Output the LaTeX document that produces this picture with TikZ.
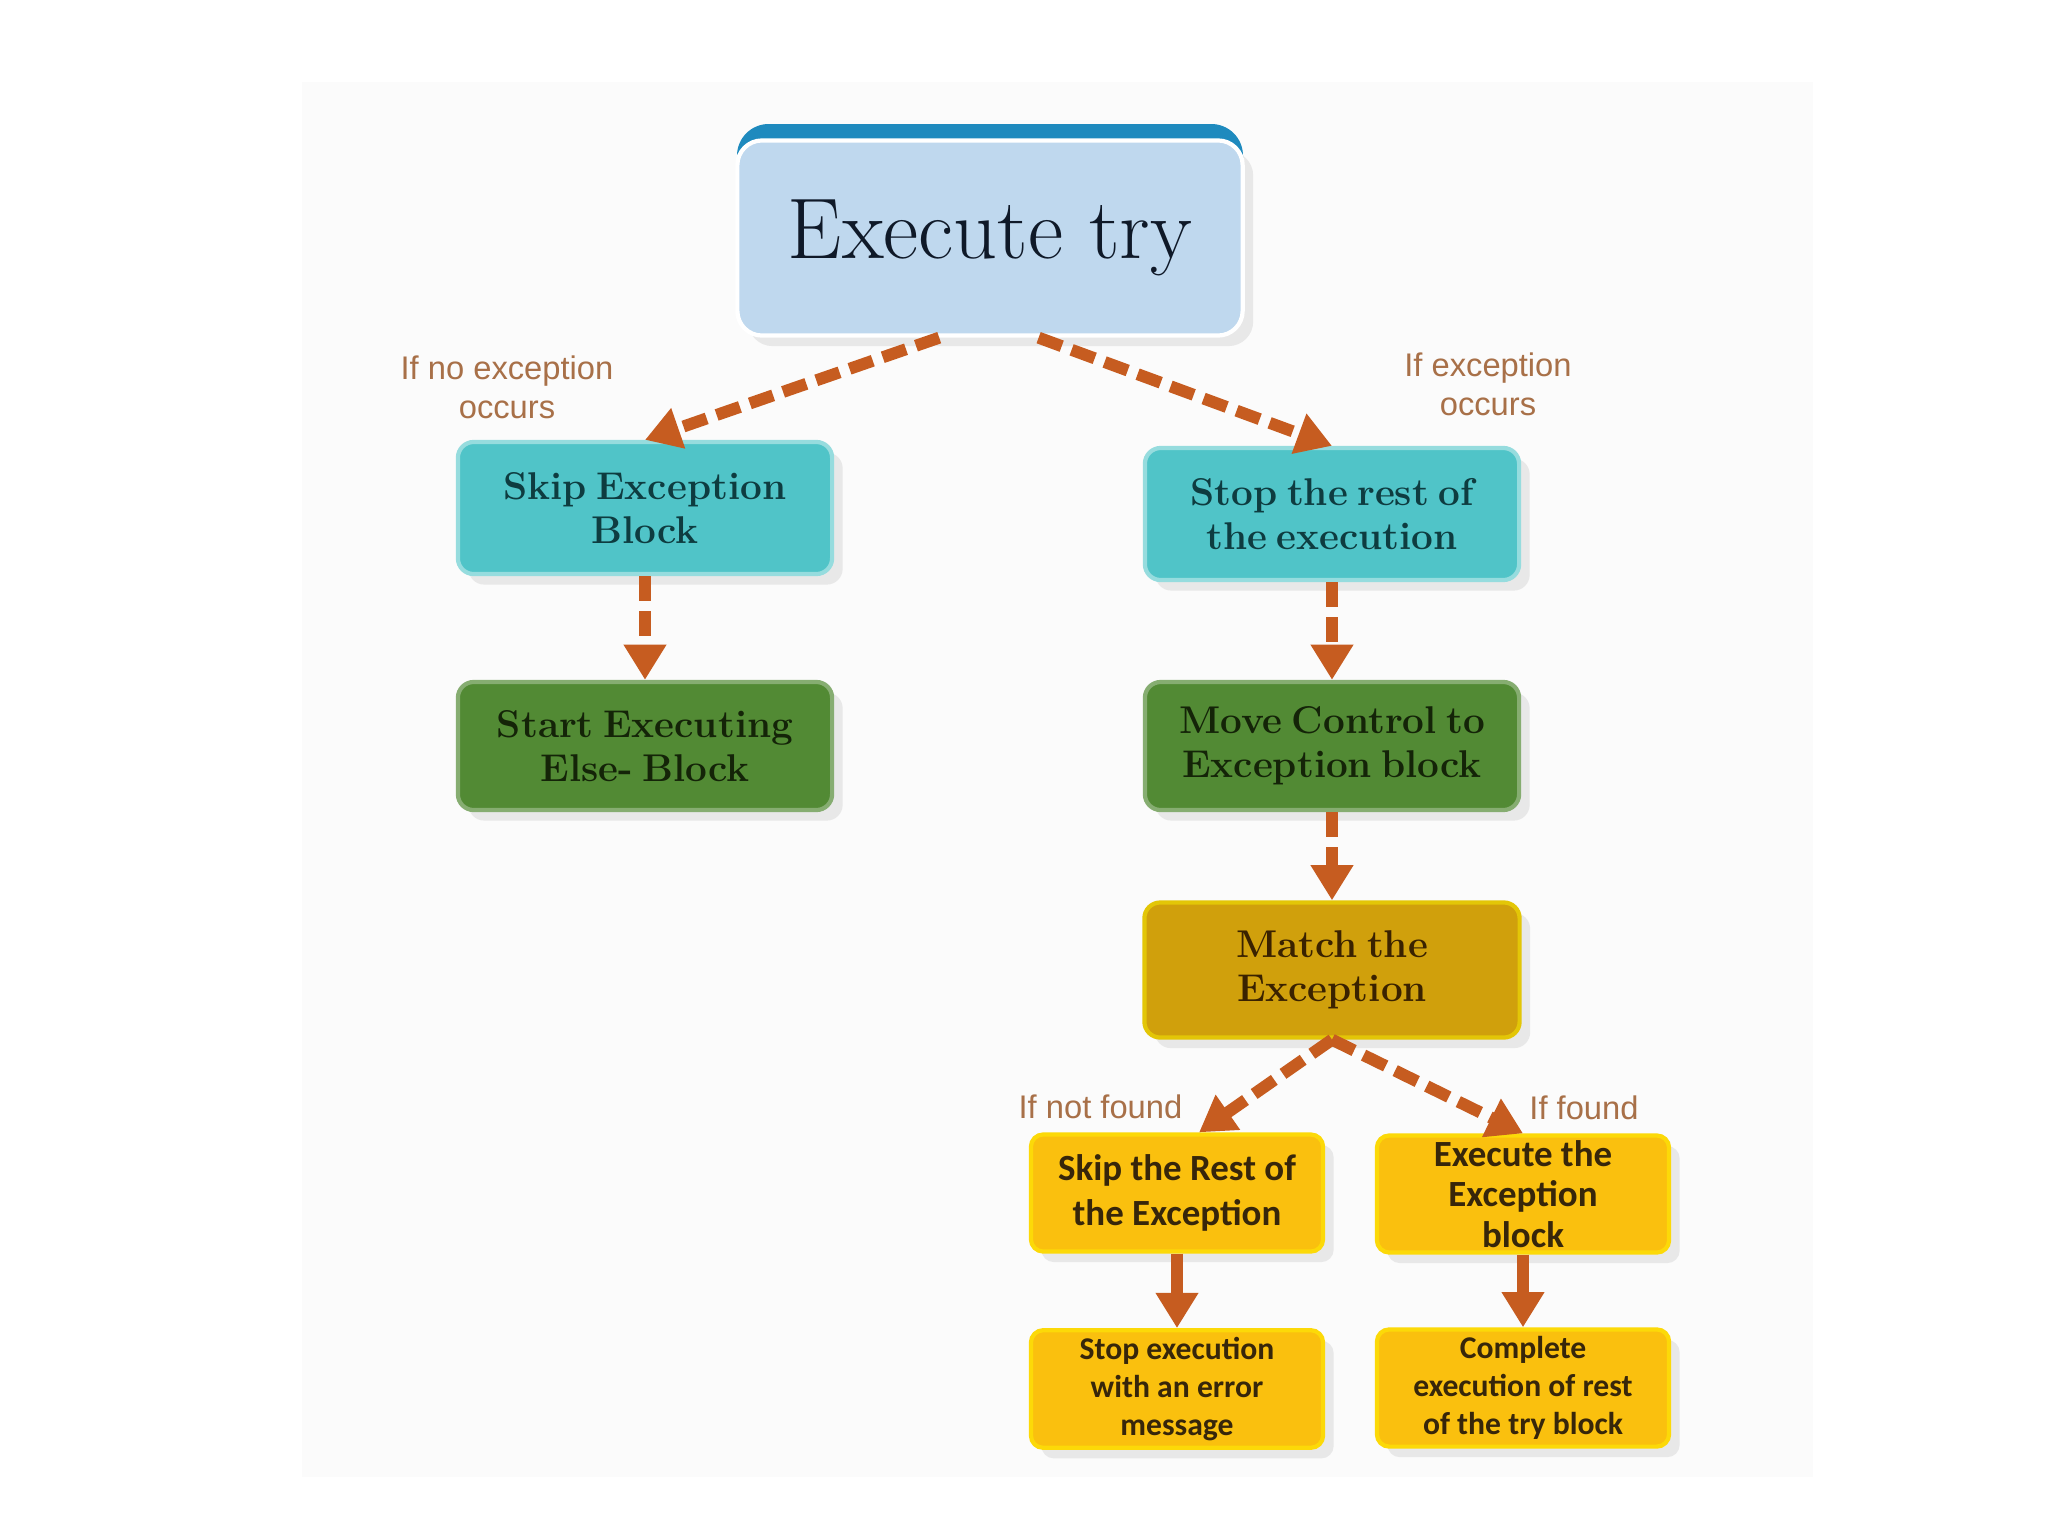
\documentclass[tikz,border=0pt]{standalone}
\usepackage{fontspec}
\newfontfamily\boxsans{Carlito}
\newfontfamily\condsans{Liberation Sans}
\usepackage{tikz}
\usetikzlibrary{arrows.meta,shadows}

\definecolor{tryblue}{RGB}{191,216,238}
\definecolor{tryband}{RGB}{30,138,190}
\definecolor{skipcyan}{RGB}{80,196,200}
\definecolor{elsegreen}{RGB}{82,138,52}
\definecolor{matchgold}{RGB}{208,160,12}
\definecolor{excyellow}{RGB}{250,192,14}
\definecolor{flowbrown}{RGB}{198,92,32}
\definecolor{condbrown}{RGB}{168,112,72}
\definecolor{wmgray}{RGB}{251,251,251}

\newcommand{\serifbold}{\bfseries\fontsize{11}{12.5}\selectfont\spaceskip=0.24em plus 0.1em}

\tikzset{
  box/.style={rectangle, rounded corners=4.5pt, align=center, inner sep=2pt, line width=1.2pt,
    drop shadow={shadow xshift=3pt, shadow yshift=-3pt, opacity=0.15}},
  trybox/.style={box, rounded corners=7pt, fill=tryblue, draw=white, text={rgb,255:red,15;green,25;blue,40},
    font=\fontsize{24.5}{29}\selectfont, minimum width=5.05cm, minimum height=1.95cm},
  cyanbox/.style={box, fill=skipcyan, draw=skipcyan!60!white, text={rgb,255:red,14;green,60;blue,64},
    font=\serifbold, minimum width=3.74cm, minimum height=1.32cm},
  greenbox/.style={box, fill=elsegreen, draw=elsegreen!70!white, text={rgb,255:red,20;green,36;blue,8},
    font=\serifbold, minimum width=3.74cm, minimum height=1.28cm},
  goldbox/.style={box, fill=matchgold, draw=matchgold!60!yellow, text={rgb,255:red,58;green,34;blue,0},
    font=\serifbold, minimum width=3.75cm, minimum height=1.35cm},
  yellowbox/.style={box, rounded corners=3.5pt, fill=excyellow, draw=excyellow!60!yellow, text={rgb,255:red,55;green,38;blue,10},
    font=\boxsans\bfseries\fontsize{10.5}{12.6}\selectfont, minimum width=2.92cm, minimum height=1.17cm},
  smallbox/.style={yellowbox, font=\boxsans\bfseries\fontsize{9}{10.8}\selectfont, minimum height=1.12cm},
  cond/.style={align=center, text=condbrown, font=\condsans\fontsize{9.3}{11}\selectfont, inner sep=0pt},
  flow/.style={draw=flowbrown, line width=3.4pt, dash pattern=on 7pt off 3pt,
    -{Triangle[width=11.5pt,length=10pt]}},
  flowsolid/.style={flow, solid}
}

\begin{document}
\begin{tikzpicture}[x=0.01cm, y=-0.01cm]

    %canvas
    \fill[white] (0,0) rectangle (2048,1536);
    \useasboundingbox (0,0) rectangle (2048,1536);
    \fill[wmgray] (302,82) rectangle (1813,1477);

    %top band of the try box
    \fill[tryband, rounded corners=9pt] (737,124) rectangle (1243,200);

    %boxes
    \node[trybox] (try) at (990,238) {Execute try};
    \node[cyanbox] (skipexc) at (645,508) {Skip Exception\\Block};
    \node[cyanbox] (stoprest) at (1332,514) {Stop the rest of\\the execution};
    \node[greenbox] (startelse) at (645,746) {Start Executing\\Else- Block};
    \node[greenbox] (movectl) at (1332,746) {Move Control to\\Exception block};
    \node[goldbox] (match) at (1332,970) {Match the\\Exception};
    \node[yellowbox] (skiprest) at (1177,1193) {Skip the Rest of\\the Exception};
    \node[yellowbox, inner ysep=0pt, font=\boxsans\bfseries\fontsize{10.5}{11.6}\selectfont] (execblk) at (1523,1194) {Execute the\\Exception\\block};
    \node[smallbox] (stopexec) at (1177,1389) {Stop execution\\with an error\\message};
    \node[smallbox] (complete) at (1523,1388) {Complete\\execution of rest\\of the try block};

    %conditions
    \node[cond] (nolbl) at (507,387) {If no exception\\occurs};
    \node[cond] (exlbl) at (1488,384) {If exception\\occurs};
    \node[cond, anchor=east] (notfound) at (1183,1107) {If not found};
    \node[cond] (found) at (1584,1108) {If found};

    %arrows
    \draw[flow] (try.243) -- (skipexc.north);
    \draw[flow] (try.296) -- (stoprest.north);
    \foreach \a/\b in {skipexc/startelse, stoprest/movectl, movectl/match}
    \draw[flow] (\a.south) -- (\b.north);
    \draw[flow] (match.south) -- (skiprest.70);
    \draw[flow] (match.south) -- (execblk.north);
    \draw[flowsolid] (skiprest.south) -- (stopexec.north);
    \draw[flowsolid] (execblk.south) -- (complete.north);

\end{tikzpicture}
\end{document}
